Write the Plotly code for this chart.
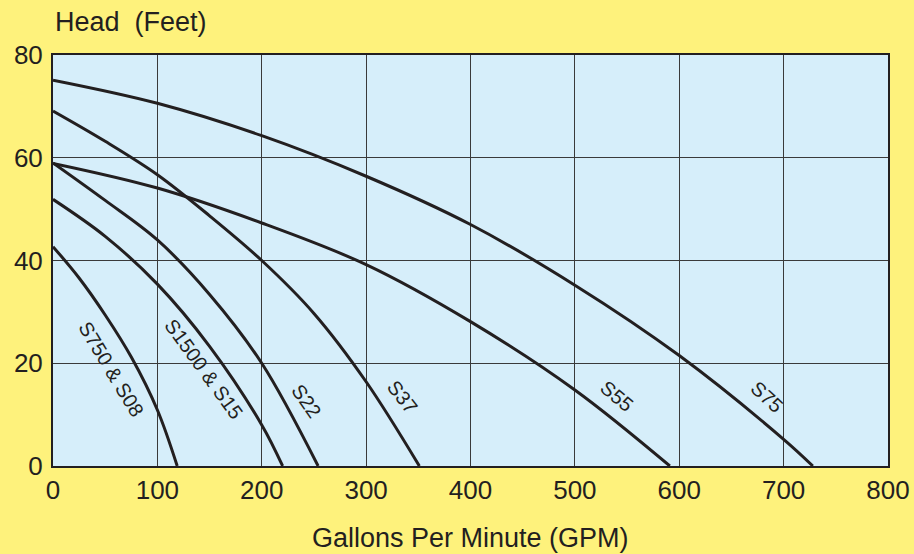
import plotly.graph_objects as go

# Pump curves: flow (GPM) vs head (feet)
s750_gpm = [0, 25, 50, 75, 100, 119]
s750_head = [42.7, 36.6, 29.4, 21.2, 10.9, 0]

s1500_gpm = [0, 50, 100, 150, 200, 220]
s1500_head = [51.9, 44.7, 35.4, 23.3, 8, 0]

s22_gpm = [0, 50, 100, 150, 200, 254]
s22_head = [59, 51.7, 44.0, 33.4, 20, 0]

s37_gpm = [0, 50, 100, 150, 200, 250, 300, 351]
s37_head = [69.1, 63.2, 56.7, 48.7, 40, 29.7, 16.4, 0]

s55_gpm = [0, 100, 200, 300, 400, 500, 591]
s55_head = [58.9, 54.1, 47.3, 39.2, 28.1, 14.8, 0]

s75_gpm = [0, 100, 200, 300, 400, 500, 600, 700, 728]
s75_head = [75.1, 70.6, 64.3, 56.4, 47.0, 35.2, 21.5, 5.2, 0]

labels = ["S750 & S08", "S1500 & S15", "S22", "S37", "S55", "S75"]
label_x = [55.6, 144.6, 243, 335, 540, 684]
label_y = [18.9, 18.9, 12.7, 13.5, 13.6, 13.4]
label_angle = [59, 54, 55, 52, 40, 43]

x_ticks = [0, 100, 200, 300, 400, 500, 600, 700, 800]
y_ticks = [0, 20, 40, 60, 80]

series = [
    (s750_gpm, s750_head),
    (s1500_gpm, s1500_head),
    (s22_gpm, s22_head),
    (s37_gpm, s37_head),
    (s55_gpm, s55_head),
    (s75_gpm, s75_head),
]

LINE = "#231f20"
FONT = "Liberation Sans, Arial, Helvetica, sans-serif"

fig = go.Figure()
for (gx, gy), name in zip(series, labels):
    fig.add_trace(go.Scatter(
        x=gx, y=gy, mode="lines", name=name,
        line=dict(color=LINE, width=3, shape="spline", smoothing=1.0),
        hoverinfo="x+y+name",
    ))

for t, lx, ly, ang in zip(labels, label_x, label_y, label_angle):
    fig.add_annotation(x=lx, y=ly, text=t, showarrow=False, textangle=ang,
                       font=dict(family=FONT, size=20, color=LINE))

fig.add_annotation(xref="paper", yref="paper", x=0, y=1, xanchor="left",
                   yanchor="bottom", yshift=16, text="Head  (Feet)", showarrow=False,
                   font=dict(family=FONT, size=27, color=LINE))
fig.add_annotation(xref="paper", yref="paper", x=0.5, y=0, xanchor="center",
                   yanchor="top", yshift=-55, text="Gallons Per Minute (GPM)",
                   showarrow=False, font=dict(family=FONT, size=27, color=LINE))

fig.update_layout(
    width=914, height=554,
    margin=dict(l=53, r=26, t=55, b=88),
    paper_bgcolor="#fef27c",
    plot_bgcolor="#d6eefa",
    showlegend=False,
    font=dict(family=FONT, color=LINE),
)
fig.update_xaxes(
    range=[0, 800], tickvals=x_ticks, ticktext=[str(v) for v in x_ticks],
    showgrid=True, gridcolor="#3a3a3a", gridwidth=1.3,
    showline=True, linecolor=LINE, linewidth=2, mirror=True,
    zeroline=False, tickfont=dict(family=FONT, size=26, color=LINE),
    ticks="", ticklabelstandoff=0, automargin=False,
)
fig.update_yaxes(
    range=[0, 80], tickvals=y_ticks, ticktext=[str(v) for v in y_ticks],
    showgrid=True, gridcolor="#3a3a3a", gridwidth=1.3,
    showline=True, linecolor=LINE, linewidth=2, mirror=True,
    zeroline=False, tickfont=dict(family=FONT, size=26, color=LINE),
    ticks="", ticklabelstandoff=3, automargin=False,
)

fig.write_html(
    "out.html",
    config={"displayModeBar": False},
    post_script="document.body.style.margin='0';document.documentElement.style.overflow='hidden';",
)
